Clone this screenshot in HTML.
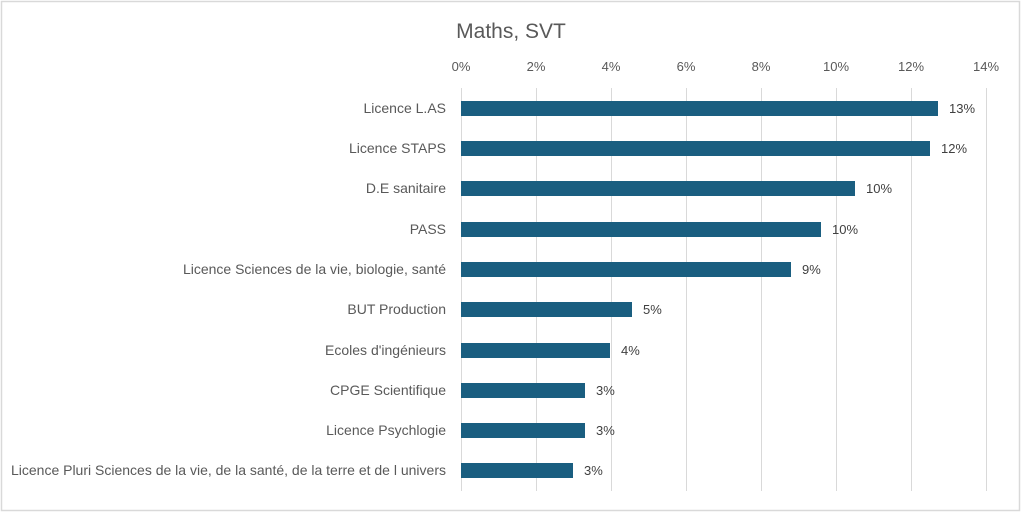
<!DOCTYPE html>
<html><head><meta charset="utf-8"><style>
html,body{margin:0;padding:0;background:#fff;}
svg{display:block;font-family:"Liberation Sans",sans-serif;}
</style></head><body>
<svg width="1022" height="513" viewBox="0 0 1022 513" xmlns="http://www.w3.org/2000/svg">
<rect x="1.5" y="1.5" width="1018" height="509" fill="#fff" stroke="#d9d9d9" stroke-width="1.5"/>
<text x="511" y="38" text-anchor="middle" font-size="21" fill="#595959">Maths, SVT</text>
<g stroke="#d9d9d9" stroke-width="1">
<line x1="461.5" y1="88" x2="461.5" y2="491"/>
<line x1="536.5" y1="88" x2="536.5" y2="491"/>
<line x1="611.5" y1="88" x2="611.5" y2="491"/>
<line x1="686.5" y1="88" x2="686.5" y2="491"/>
<line x1="761.5" y1="88" x2="761.5" y2="491"/>
<line x1="836.5" y1="88" x2="836.5" y2="491"/>
<line x1="911.5" y1="88" x2="911.5" y2="491"/>
<line x1="986.5" y1="88" x2="986.5" y2="491"/>
</g>
<g font-size="13" fill="#595959" text-anchor="middle">
<text x="461" y="71">0%</text><text x="536" y="71">2%</text><text x="611" y="71">4%</text><text x="686" y="71">6%</text><text x="761" y="71">8%</text><text x="836" y="71">10%</text><text x="911" y="71">12%</text><text x="986" y="71">14%</text>
</g>
<g fill="#1a5e80">
<rect x="461" y="101" width="477" height="15"/>
<rect x="461" y="141" width="469" height="15"/>
<rect x="461" y="181" width="394" height="15"/>
<rect x="461" y="222" width="360" height="15"/>
<rect x="461" y="262" width="330" height="15"/>
<rect x="461" y="302" width="171" height="15"/>
<rect x="461" y="343" width="149" height="15"/>
<rect x="461" y="383" width="124" height="15"/>
<rect x="461" y="423" width="124" height="15"/>
<rect x="461" y="463" width="112" height="15"/>
</g>
<g font-size="13" fill="#404040">
<text x="949" y="113">13%</text>
<text x="941" y="153">12%</text>
<text x="866" y="193">10%</text>
<text x="832" y="234">10%</text>
<text x="802" y="274">9%</text>
<text x="643" y="314">5%</text>
<text x="621" y="355">4%</text>
<text x="596" y="395">3%</text>
<text x="596" y="435">3%</text>
<text x="584" y="475">3%</text>
</g>
<g font-size="14" fill="#595959" text-anchor="end">
<text x="446" y="113">Licence L.AS</text>
<text x="446" y="153">Licence STAPS</text>
<text x="446" y="193">D.E sanitaire</text>
<text x="446" y="234">PASS</text>
<text x="446" y="274">Licence Sciences de la vie, biologie, santé</text>
<text x="446" y="314">BUT Production</text>
<text x="446" y="355">Ecoles d'ingénieurs</text>
<text x="446" y="395">CPGE Scientifique</text>
<text x="446" y="435">Licence Psychlogie</text>
<text x="446" y="475">Licence Pluri Sciences de la vie, de la santé, de la terre et de l univers</text>
</g>
</svg>
</body></html>
